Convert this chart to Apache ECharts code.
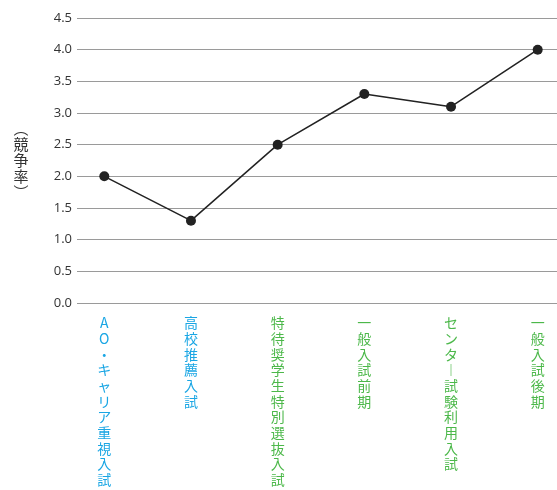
<!DOCTYPE html>
<html>
<head>
<meta charset="utf-8">
<script src="https://cdn.jsdelivr.net/npm/echarts@6/dist/echarts.min.js"></script>
<style>
html,body{margin:0;padding:0;background:#fff;}
#main{width:557px;height:490px;}
</style>
</head>
<body>
<div id="main"></div>
<script>
const categories = ['AO・キャリア重視入試', '高校推薦入試', '特待奨学生特別選抜入試', '一般入試前期', 'センター試験利用入試', '一般入試後期'];
const categoryColors = ['#1aa6e4', '#1aa6e4', '#4cb84a', '#4cb84a', '#4cb84a', '#4cb84a'];
const rates = [2.0, 1.3, 2.5, 3.3, 3.1, 4.0];
const yAxisName = '（競争率）';
const yMin = 0, yMax = 4.5, yStep = 0.5;

const verticalMap = { 'ー': '︱', '（': '︵', '）': '︶' };
function toVertical(s) {
  return Array.from(s).map(c => verticalMap[c] || c).join('\n');
}

const chart = echarts.init(document.getElementById('main'), null, { renderer: 'canvas' });
const fontFam = '"Noto Sans CJK JP", "Noto Sans", sans-serif';
chart.setOption({
  animation: false,
  backgroundColor: '#fff',
  grid: [
    { left: 77, right: 0, top: 18, bottom: 187 },
    { left: 104.3, right: 19.3, top: 18, bottom: 187 }
  ],
  xAxis: [
    { gridIndex: 0, type: 'category', data: categories, show: false },
    {
      gridIndex: 1, type: 'category', data: categories, boundaryGap: false,
      axisLine: { show: false }, axisTick: { show: false },
      axisLabel: {
        margin: 12,
        interval: 0,
        fontFamily: fontFam,
        fontSize: 14,
        lineHeight: 15.7,
        verticalAlign: 'top',
        formatter: (v) => toVertical(v),
        color: (v, i) => categoryColors[categories.indexOf(v)]
      }
    }
  ],
  yAxis: [
    {
      gridIndex: 0, type: 'value', min: yMin, max: yMax, interval: yStep,
      axisLine: { show: false }, axisTick: { show: false },
      axisLabel: {
        margin: 5, color: '#333', fontSize: 13,
        fontFamily: '"Open Sans", "Noto Sans", sans-serif',
        formatter: (v) => v.toFixed(1)
      },
      splitLine: { lineStyle: { color: '#9a9a9a', width: 1.2 } },
      name: toVertical(yAxisName),
      nameLocation: 'middle',
      nameGap: 56,
      nameRotate: 0,
      nameTextStyle: { color: '#333', fontSize: 15, lineHeight: 16, fontFamily: fontFam, align: 'center', verticalAlign: 'middle' }
    },
    { gridIndex: 1, type: 'value', min: yMin, max: yMax, interval: yStep, show: false, splitLine: { show: false } }
  ],
  series: [
    {
      type: 'line', xAxisIndex: 1, yAxisIndex: 1, data: rates,
      symbol: 'circle', symbolSize: 10,
      lineStyle: { color: '#222', width: 1.5 },
      itemStyle: { color: '#222' }
    }
  ]
});
</script>
</body>
</html>
